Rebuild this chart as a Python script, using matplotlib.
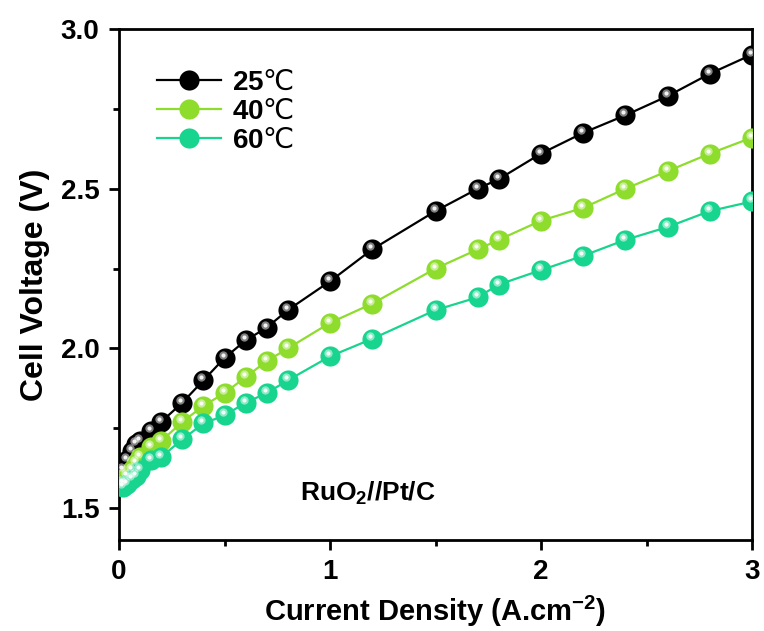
import matplotlib
matplotlib.use("Agg")
import matplotlib.pyplot as plt
import matplotlib.transforms as mtransforms
import numpy as np

plt.rcParams['font.family'] = ['Liberation Sans', 'DejaVu Sans']
plt.rcParams['mathtext.fontset'] = 'custom'
plt.rcParams['mathtext.rm'] = 'DejaVu Sans:weight=normal'
plt.rcParams['mathtext.bf'] = 'Liberation Sans:weight=bold'
plt.rcParams['mathtext.default'] = 'bf'

# current density (A/cm2)
j = [0.02, 0.04, 0.06, 0.08, 0.1, 0.15, 0.2, 0.3, 0.4, 0.5, 0.6, 0.7, 0.8,
     1.0, 1.2, 1.5, 1.7, 1.8, 2.0, 2.2, 2.4, 2.6, 2.8, 3.0]

# cell voltage (V)
v25 = [1.62, 1.65, 1.68, 1.70, 1.71, 1.74, 1.77, 1.83, 1.90, 1.97, 2.025, 2.065, 2.12,
       2.21, 2.31, 2.43, 2.50, 2.53, 2.61, 2.675, 2.73, 2.79, 2.86, 2.92]
v40 = [1.58, 1.60, 1.62, 1.64, 1.66, 1.69, 1.71, 1.77, 1.82, 1.86, 1.91, 1.96, 2.00,
       2.08, 2.14, 2.25, 2.31, 2.34, 2.40, 2.44, 2.50, 2.555, 2.61, 2.66]
v60 = [1.565, 1.575, 1.59, 1.60, 1.62, 1.65, 1.66, 1.715, 1.765, 1.79, 1.83, 1.86, 1.90,
       1.975, 2.03, 2.12, 2.16, 2.20, 2.245, 2.29, 2.34, 2.38, 2.43, 2.46]

labels = ['25$\\mathrm{℃}$', '40$\\mathrm{℃}$', '60$\\mathrm{℃}$']
colors = ['#000000', '#8EDC2C', '#17D48E']
series = [v25, v40, v60]

fig = plt.figure(figsize=(7.64, 6.31), dpi=100)
ax = fig.add_axes([0.1558, 0.1442, 0.8285, 0.8098])

# small highlight offset for the shiny ball markers
shift = mtransforms.ScaledTranslation(-2/100, 3/100, fig.dpi_scale_trans)

for v, c, lab in zip(series, colors, labels):
    ax.plot(j, v, color=c, lw=1.6, marker='o', markersize=14.5,
            markeredgewidth=0, label=lab, zorder=3)
    ax.plot(j, v, ls='none', marker='o', markersize=6, markeredgewidth=0,
            color='white', alpha=0.5, transform=ax.transData + shift, zorder=4)
    ax.plot(j, v, ls='none', marker='o', markersize=3, markeredgewidth=0,
            color='white', alpha=0.9, transform=ax.transData + shift, zorder=5)

ax.set_xlim(0, 3)
ax.set_ylim(1.4, 3.0)
ax.set_xticks([0, 1, 2, 3])
ax.set_xticks([0.5, 1.5, 2.5], minor=True)
ax.set_yticks([1.5, 2.0, 2.5, 3.0])
ax.set_yticks([1.75, 2.25, 2.75], minor=True)

for s in ax.spines.values():
    s.set_linewidth(2)
ax.tick_params(which='major', direction='out', length=7, width=2, labelsize=20, pad=7)
ax.tick_params(which='minor', direction='out', length=4, width=2)
for t in ax.get_xticklabels() + ax.get_yticklabels():
    t.set_fontweight('bold')

ax.set_xlabel('Current Density (A.cm$^{-2}$)', fontsize=21, fontweight='bold', labelpad=6)
ax.set_ylabel('Cell Voltage (V)', fontsize=23, fontweight='bold', labelpad=8)

ax.text(1.18, 1.545, 'RuO$_2$//Pt/C', fontsize=19, fontweight='bold', ha='center', va='center')

leg = ax.legend(loc='upper left', bbox_to_anchor=(0.02, 0.97), frameon=False,
                prop={'size': 20, 'weight': 'bold'}, handlelength=2.3,
                handletextpad=0.4, labelspacing=0.12)

fig.savefig('out.png', dpi=100)
